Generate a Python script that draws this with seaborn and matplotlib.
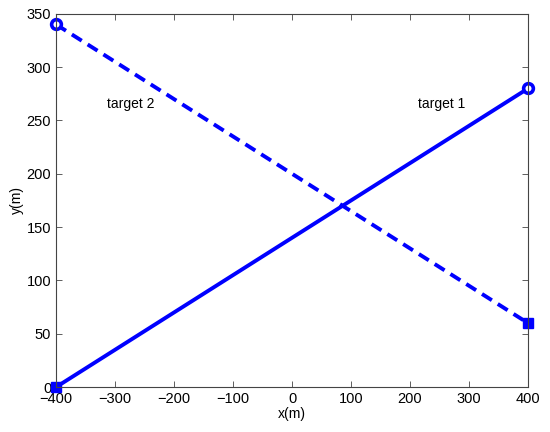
import matplotlib
matplotlib.use("Agg")
import matplotlib.pyplot as plt
import seaborn as sns
import pandas as pd

# Data: two target tracks
t1_x = [-400, 400]
t1_y = [0, 280]
t2_x = [-400, 400]
t2_y = [340, 60]

sns.set_style("ticks")
plt.rcParams['font.family'] = ['Liberation Sans', 'DejaVu Sans']
plt.rcParams['xtick.direction'] = 'in'
plt.rcParams['ytick.direction'] = 'in'
plt.rcParams['text.color'] = 'black'
plt.rcParams['axes.labelcolor'] = 'black'
plt.rcParams['xtick.labelcolor'] = 'black'
plt.rcParams['ytick.labelcolor'] = 'black'

fig = plt.figure(figsize=(5.5, 4.32), dpi=100)
ax = fig.add_axes([0.102, 0.104, 0.858, 0.864])

df1 = pd.DataFrame({'x': t1_x, 'y': t1_y})
df2 = pd.DataFrame({'x': t2_x, 'y': t2_y})

sns.lineplot(data=df1, x='x', y='y', ax=ax, color='#0000ff', linewidth=2.8)
sns.lineplot(data=df2, x='x', y='y', ax=ax, color='#0000ff', linewidth=2.8,
             linestyle=(0, (3, 1.8)))

# start (square) and end (circle) markers
ax.plot(t1_x[0], t1_y[0], marker='s', ms=7, mfc='#0000ff', mec='#0000ff', clip_on=False)
ax.plot(t1_x[-1], t1_y[-1], marker='o', ms=7, mfc='white', mec='#0000ff', mew=2.6, clip_on=False)
ax.plot(t2_x[0], t2_y[0], marker='o', ms=7, mfc='white', mec='#0000ff', mew=2.6, clip_on=False)
ax.plot(t2_x[-1], t2_y[-1], marker='s', ms=7, mfc='#0000ff', mec='#0000ff', clip_on=False)

ax.text(-313, 265, 'target 2', fontsize=10, va='center')
ax.text(213, 265, 'target 1', fontsize=10, va='center')

ax.set_xlim(-400, 400)
ax.set_ylim(0, 350)
ax.set_xticks(range(-400, 401, 100))
ax.set_yticks(range(0, 351, 50))
ax.set_xlabel('x(m)', fontsize=10, labelpad=1)
ax.set_ylabel('y(m)', fontsize=10, labelpad=2)
ax.tick_params(labelsize=10.5, top=True, right=True, length=4, width=0.6, color='#444444')
for s in ax.spines.values():
    s.set_linewidth(0.8)
    s.set_color('#444444')

fig.savefig('out.png', dpi=100)
